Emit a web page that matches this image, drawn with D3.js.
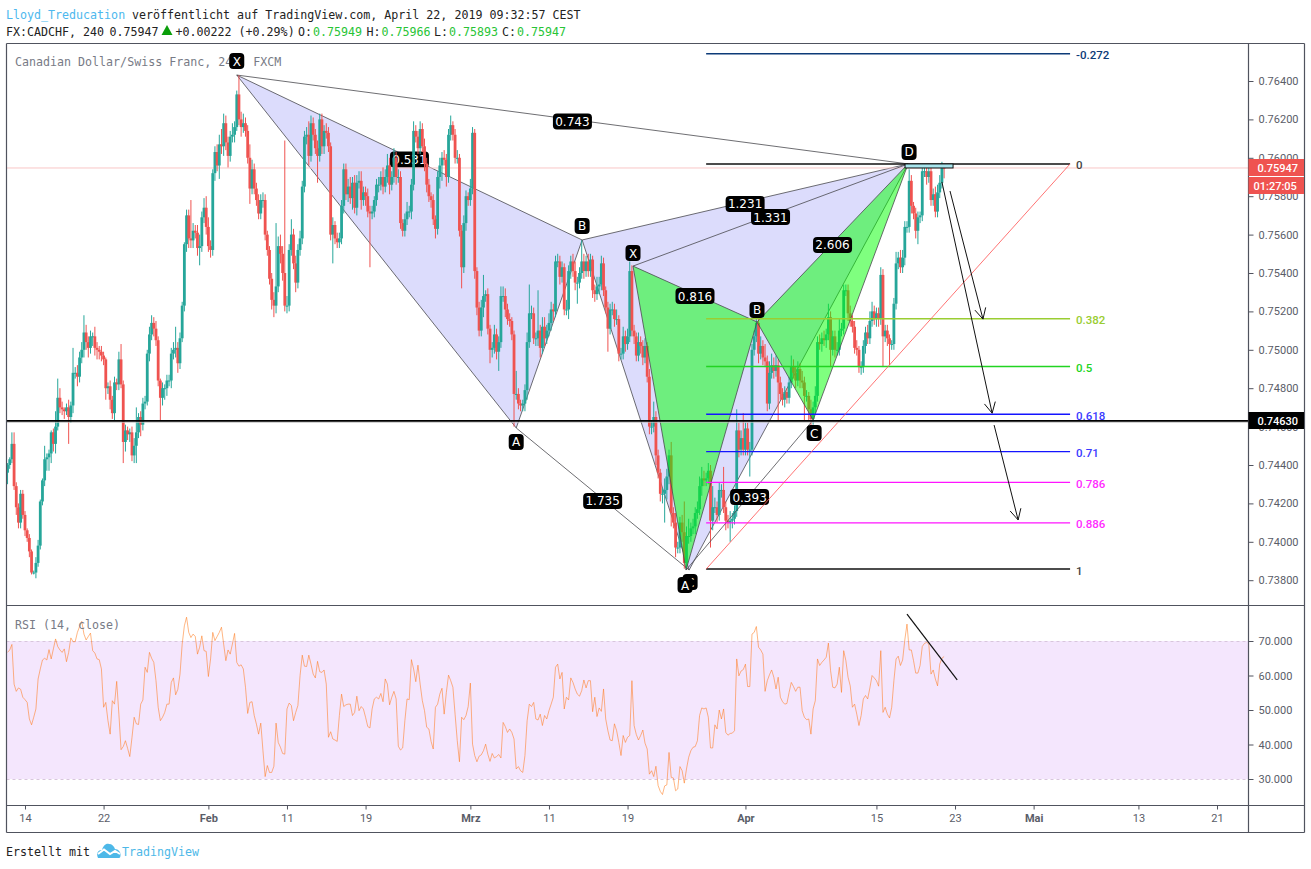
<!DOCTYPE html>
<html lang="de">
<head>
<meta charset="utf-8">
<title>CADCHF 240</title>
<script src="https://cdn.jsdelivr.net/npm/d3@7/dist/d3.min.js"></script>
<style>
html,body{margin:0;padding:0;background:#fff;}
svg{display:block;}
.mono{font-family:"DejaVu Sans Mono",monospace;font-size:11.65px;}
.scale{font-family:Roboto,sans-serif;font-size:11px;fill:#5a5d68;}
.tag{font-family:"DejaVu Sans",sans-serif;font-size:12px;fill:#fff;text-anchor:middle;}
</style>
</head>
<body>
<svg id="chart" width="1311" height="869"></svg>
<script>
// Prices are kept in pips (1 pip = 0.0001), one entry per 4-hour bar.
const firstOpen = 7436;
const closes = [
7440,7443,7451,7429,7418,7410,7425,7414,7406,7402,
7395,7384,7384,7389,7398,7421,7432,7443,7444,7446,
7457,7451,7460,7475,7470,7469,7468,7470,7465,7471,
7488,7488,7486,7496,7500,7509,7504,7501,7507,7507,
7501,7500,7499,7497,7495,7480,7481,7474,7467,7483,
7482,7495,7482,7452,7458,7456,7457,7445,7450,7457,
7465,7461,7472,7473,7498,7508,7514,7511,7505,7484,
7475,7480,7480,7484,7484,7498,7500,7501,7493,7506,
7523,7555,7570,7558,7557,7562,7561,7553,7554,7569,
7574,7564,7554,7552,7592,7603,7596,7607,7606,7618,
7608,7601,7611,7612,7616,7633,7620,7616,7618,7614,
7600,7584,7594,7584,7578,7571,7578,7578,7560,7552,
7537,7526,7523,7533,7554,7550,7540,7523,7523,7552,
7560,7545,7535,7552,7558,7585,7611,7612,7601,7618,
7612,7605,7601,7620,7606,7614,7613,7606,7560,7565,
7558,7556,7558,7575,7594,7581,7585,7579,7587,7574,
7587,7588,7578,7582,7580,7572,7571,7572,7578,7586,
7586,7590,7585,7590,7596,7586,7590,7600,7590,7590,
7566,7562,7568,7572,7572,7586,7614,7611,7605,7615,
7606,7597,7586,7580,7578,7568,7563,7590,7596,7600,
7599,7590,7612,7617,7612,7600,7600,7562,7543,7566,
7580,7578,7584,7613,7541,7522,7510,7522,7528,7529,
7511,7500,7501,7508,7499,7504,7528,7528,7521,7516,
7515,7508,7477,7477,7472,7471,7472,7479,7504,7519,
7519,7506,7506,7510,7501,7512,7506,7510,7514,7521,
7520,7546,7546,7538,7543,7521,7521,7541,7546,7541,
7535,7535,7540,7546,7541,7546,7541,7547,7531,7529,
7533,7534,7545,7531,7522,7511,7521,7521,7516,7516,
7498,7498,7507,7503,7507,7541,7510,7507,7497,7504,
7502,7496,7502,7486,7460,7460,7465,7445,7436,7425,
7425,7427,7434,7445,7415,7410,7397,7397,7410,7405,
7389,7403,7403,7407,7408,7415,7417,7429,7433,7432,
7433,7437,7411,7418,7418,7414,7427,7427,7418,7411,
7410,7411,7412,7416,7458,7448,7454,7448,7459,7448,
7448,7500,7507,7514,7498,7502,7496,7494,7472,7488,
7492,7489,7492,7483,7477,7474,7478,7475,7483,7491,
7488,7484,7490,7484,7483,7476,7476,7469,7464,7470,
7476,7504,7503,7506,7505,7508,7517,7500,7507,7500,
7500,7510,7511,7531,7531,7519,7515,7512,7501,7500,
7491,7491,7502,7509,7506,7515,7520,7516,7519,7516,
7539,7507,7510,7506,7503,7503,7524,7545,7548,7543,
7548,7564,7564,7588,7575,7571,7562,7569,7570,7593,
7593,7590,7593,7578,7581,7572,7582,7587,7594.9,7594.7];

// Wick lengths in pips, measured from the top and the bottom of each body.
const wickUp = [
1,1,6,6,2,2,2,2,2,1,
2,1,1,3,3,1,1,7,2,2,
1,2,8,10,5,3,1,2,4,2,
13,3,4,3,4,9,4,3,3,2,
5,3,2,3,2,1,2,3,2,3,
2,4,8,2,3,2,2,3,4,13,
2,3,3,3,2,4,4,3,4,2,
1,3,2,3,3,3,4,11,3,3,
2,1,3,3,20,4,3,4,6,3,
5,6,5,3,2,3,4,5,8,5,
4,3,3,6,3,2,10,4,5,3,
3,7,5,3,3,3,3,4,3,2,
2,3,4,33,5,6,4,69,5,3,
8,3,4,3,4,3,3,4,7,4,
3,3,4,3,3,3,4,3,2,4,
2,3,3,3,3,3,4,5,3,4,
4,5,5,3,3,4,3,3,2,3,
4,3,5,4,6,4,3,5,3,4,
3,2,3,5,3,3,5,3,3,4,
3,4,3,3,2,3,2,3,4,3,
4,3,3,5,2,3,4,2,3,4,
3,2,5,3,2,2,3,4,11,2,
3,2,3,5,3,3,5,5,4,3,
3,2,2,12,3,2,2,3,5,15,
4,3,3,21,3,5,5,3,5,4,
3,3,4,3,3,2,5,3,3,4,
5,3,3,11,4,3,4,3,2,3,
5,4,4,3,2,3,3,4,3,5,
2,3,5,3,4,5,3,3,2,5,
3,3,4,2,4,3,8,3,3,2,
3,6,4,3,7,3,5,3,3,4,
16,5,9,3,4,3,4,5,6,4,
3,4,3,11,5,3,4,3,12,3,
3,5,3,3,11,4,4,13,3,3,
4,3,3,3,3,5,3,7,3,6,
6,4,5,3,3,3,3,2,3,6,
4,3,4,3,5,3,3,2,5,3,
5,3,4,3,4,3,7,3,3,3,
4,6,3,3,3,3,4,3,3,4,
2,3,3,3,4,5,5,3,3,3,
4,3,3,3,2,2,3,6,3,4,
4,3,3,6,3,2,3,3,2,2,
2,2,3,3,3,4,4,4,3,1.7];

const wickDown = [
6,2,2,2,4,3,3,2,3,2,
3,1,1,3,2,2,2,3,6,7,
5,4,5,2,3,3,4,2,14,3,
4,3,5,3,3,4,4,5,3,5,
4,5,4,3,3,6,3,5,3,4,
3,3,2,11,5,3,4,3,4,9,
3,6,3,3,2,4,3,4,3,3,
12,4,6,4,3,4,3,4,5,3,
2,3,4,5,4,4,3,4,9,3,
3,4,3,4,3,4,3,7,4,5,
4,6,3,3,4,2,3,5,3,3,
3,8,3,3,3,3,3,4,3,3,
3,5,6,4,3,5,4,3,4,3,
3,3,5,3,3,3,3,4,5,3,
3,3,14,3,4,4,3,3,3,15,
3,3,3,3,4,3,4,3,6,3,
4,3,5,3,5,3,28,3,3,3,
4,3,4,3,3,5,3,3,4,3,
3,3,3,3,3,4,3,3,3,3,
3,4,4,3,4,3,5,3,6,8,
3,5,3,3,3,3,3,3,11,3,
4,3,3,3,4,4,3,3,5,3,
3,7,4,3,4,10,3,3,4,3,
3,3,17,3,3,3,3,4,5,3,
3,3,4,4,5,3,4,3,3,4,
5,3,3,4,3,3,3,5,4,3,
4,11,3,3,4,3,3,3,4,4,
3,4,3,3,3,12,3,3,4,3,
4,3,3,4,3,3,3,4,3,3,
4,4,3,3,4,4,3,5,3,4,
5,15,5,4,7,3,5,3,3,5,
3,3,4,3,3,4,3,3,5,3,
3,3,14,5,3,4,3,4,3,5,
3,10,4,3,3,4,3,3,3,3,
14,3,3,3,5,3,4,3,4,3,
3,4,3,20,3,3,4,3,3,3,
3,4,3,4,3,13,3,6,4,3,
3,3,3,4,3,4,3,9,3,4,
3,3,3,3,3,4,3,3,3,3,
3,4,3,4,3,3,3,3,4,4,
3,16,3,4,11,3,3,3,3,3,
3,4,3,3,4,3,4,7,3,3,
3,4,3,3,3,3,3,3,3,5.4];

// RSI (14, close), one value per bar.
const rsiValues = [
66.7,67.4,69,57.5,55.4,56.4,56,53.7,53,52.2,
47.4,45.7,47.9,50.3,59,61.9,64.5,65,64.5,67.5,
64.8,67.7,70.6,68.4,67.4,66.7,67.7,64,66.7,70.9,
69.8,69.8,72.5,74.2,75.7,72,70.3,71.3,72.3,67.2,
66.5,64.8,64.6,61.9,50.8,52.2,46.9,43,52.7,51.7,
58.3,48.8,38.5,39.4,41.1,38.9,36.5,42,47.9,46,
45.8,51.7,52.9,62.4,60.9,66.7,65,63.8,58.5,50.8,
46.9,47.9,49.3,51.7,51.7,58,59.3,54.4,56,60.4,
69.1,74.4,76.9,72.5,71,72,71.3,66.2,68.2,71.5,
67.2,67,59.7,64.8,72.5,70.1,71.3,72.5,74,69.1,
64.3,67.4,66.2,69.1,72.2,63.8,62.7,63.1,61.9,56.6,
49,52.2,52.4,48.4,45.9,43,46.2,38.2,30.7,33.9,
31.9,31.9,33.7,46.2,40.6,39.2,37.4,37.2,50.3,52,
51.3,46.9,49.3,51.3,60,65.9,62.7,62.6,65.9,63.3,
60.4,59.3,64.1,61.1,60.9,61.6,57.5,42.1,43.7,41.6,
41.3,40.9,48.4,54.6,51,51.5,51.7,51.7,48.4,49.3,
54,49.8,51,50.3,47.9,45.2,44.8,50.3,53.2,53.7,
53.2,54.8,52.4,59,57.5,51.5,53.7,55.4,53.2,39.5,
38.4,39,46.9,53.2,53,64.6,61.9,58.2,63,57.5,
52.7,49.8,45,44.5,40.9,38.7,50.8,51.7,54.6,56.3,
48.8,55.1,60.1,58.5,56.6,48.8,41.1,35,47.9,47.2,
48.4,51,57.8,40.1,36.8,35,36.6,
37,38.2,40.1,37.2,35.1,37.4,36.1,36.5,37.1,36.1,
46.4,45.2,43.5,44.5,43.5,41.6,32.9,33.6,32.4,31.9,
36.8,46.9,51.7,51,52.2,47.4,47.1,48.8,45.5,48.4,
47.4,49.8,51.7,53.7,62.4,63.3,59,60.9,50.3,53.7,
52.9,59.3,58,56.1,54.6,54,55.6,58.7,56.4,58.5,
58.5,49.5,53.7,48.1,50.6,49.6,56.1,47.4,44,41.3,
41.1,46,44,40.6,36.8,42.6,40.6,42.1,42.6,58.5,
45.5,42.9,41.3,42.6,44.2,40.4,38.7,31.4,32.4,30.7,
33.7,28.1,26.4,25.5,28,28.3,37.7,30.5,30.3,26.6,
27.1,33.6,32.4,28.8,32.9,36.3,38.2,39.2,39.4,41.1,
48.4,50.6,50.3,50.6,47.9,39,39,45.7,44.5,50,
47.4,50.3,43.5,42.7,43.2,43.3,44,64.8,59.9,61.3,
61.7,63.3,56.8,56.8,72,72.5,74.2,68.2,67.4,66.2,
55.4,58.5,60.2,61.6,59.5,56.1,59.5,53.7,52.4,51.7,
51.9,55.1,58,56.8,55.4,56.6,56.6,49.8,47.9,47.2,
47.4,43,50.3,52.7,64.8,62.9,63.8,64.5,65.3,69.4,
61.4,56.6,56.4,57.5,62.4,55.1,67.2,64.3,59.5,57,
50.8,51.7,48.8,45.5,48.4,53.2,54.2,53.2,56.4,60,
59.3,58.5,56.9,67.2,49.3,50.8,48.8,47.7,50.8,58.5,
64.8,65.6,62.9,64.5,70.3,74.9,67.4,67.4,64.3,60.7,
60.7,62.9,68.4,69.3,69.6,69.1,60.4,61.6,59,57,
63.3,65,65.5];

// Time axis: bar positions and their labels.
const timeTickBars = [8,44,92,128,164,212,248,284,338,398,434,470,518,554];
const timeTickLabels = ["14","22","Feb","11","19","Mrz","11","19","Apr","15","23","Mai","13","21"];
const monthLabels = ["Feb","Mrz","Apr","Mai"];

const priceTicks = [7640,7620,7600,7580,7560,7540,7520,7500,7480,7460,7440,7420,7400,7380];
const rsiTicks = [70,60,50,40,30];

// Harmonic patterns, [bar, price in pips] per pivot.
const largePattern = {X:[105,7643.1],A:[233,7459.3],B:[263.2,7557.2],C:[312.2,7385.3],D:[412.5,7596.8]};
const largeRatios = {XB:"0.531",AC:"1.735",BD:"1.231",XD:"0.743"};
const smallPattern = {X:[286.5,7543.6],A:[310.8,7385.3],B:[343.3,7514.5],C:[369,7463.4],D:[412.5,7596.8]};
const smallRatios = {XB:"0.816",AC:"0.393",BD:"2.606",XD:"1.331"};

// Fibonacci retracement between two anchors.
const fibStart = [320,7385.8];
const fibEnd = [486.7,7596.8];
const fibLevels = [-0.272,0,0.382,0.5,0.618,0.71,0.786,0.886,1];
const fibColors = ["#0d3b78","#111111","#9acd32","#22d422","#1414ff","#1414ff","#ff14ff","#ff14ff","#111111"];
const fibTextColors = ["#0d3b78","#444444","#9acd32","#22d422","#3a3aff","#3a3aff","#ff2cff","#ff2cff","#444444"];

// Hand-drawn projection arrows, the small box at D and the RSI trend line.
const arrowSegments = [
  [[431.7,7582.7],[446.8,7516]],
  [[428,7587.4],[451,7467]],
  [[451.9,7460.8],[462.9,7411.4]]
];
const dBox = [[411.1,7596.8],[433.1,7594.7]];
const rsiTrend = [[412,77.8],[435,58.7]];
const supportLevel = 7463;
const lastPrice = 7594.7;

const x = d3.scaleLinear().domain([8,554]).range([25,1217]);
const y = d3.scaleLinear().domain([7640,7380]).range([81,580.2]);
const yRsi = d3.scaleLinear().domain([70,30]).range([641,779]);

const paneLeft = 6.5, paneRight = 1248.5, frameRight = 1304.5;
const frameTop = 43.5, priceBottom = 605.5, rsiBottom = 805.5, frameBottom = 832.5;

const svg = d3.select("#chart");
const bars = closes.map((c,i) => {
  const o = i ? closes[i-1] : firstOpen;
  return {i, o, c, h: Math.max(o,c) + (wickUp[i]||0), l: Math.min(o,c) - (wickDown[i]||0)};
});

// Header lines
const header = svg.append("g").attr("class","mono");
const put = (t,px,py,fill) => header.append("text").attr("x",px).attr("y",py).attr("fill",fill).text(t);
put("Lloyd_Treducation",6,19,"#4db8ee");
put("veröffentlicht auf TradingView.com, April 22, 2019 09:32:57 CEST",132,19,"#222");
put("FX:CADCHF, 240",6,36,"#222");
put("0.75947",109.5,36,"#222");
header.append("path").attr("d","M161.5 35 L167 25 L172.5 35 Z").attr("fill","#0a9e0a");
put("+0.00222 (+0.29%)",175.5,36,"#222");
put("O:",298,36,"#222"); put("0.75949",313,36,"#28c436");
put("H:",366.5,36,"#222"); put("0.75966",381.5,36,"#28c436");
put("L:",434,36,"#222"); put("0.75893",449,36,"#28c436");
put("C:",502,36,"#222"); put("0.75947",517,36,"#28c436");

// RSI band behind the oscillator
svg.append("rect").attr("x",paneLeft).attr("width",paneRight-paneLeft)
  .attr("y",yRsi(70)).attr("height",yRsi(30)-yRsi(70)).attr("fill","#f4e6fd");
svg.selectAll(".band").data([70,30]).join("line")
  .attr("x1",paneLeft).attr("x2",paneRight).attr("y1",d=>yRsi(d)+.5).attr("y2",d=>yRsi(d)+.5)
  .attr("stroke","#d8c6dc").attr("stroke-dasharray","3,3");

// Pane captions
svg.append("text").attr("class","mono").attr("x",15).attr("y",66).attr("fill","#787b86")
  .text("Canadian Dollar/Swiss Franc, 240, FXCM");

// Harmonic pattern drawing
const px = p => [x(p[0]),y(p[1])];
function pattern(pts, fill){
  const g = svg.append("g");
  const tri = (a,b,c) => g.append("path")
    .attr("d",d3.line()([px(pts[a]),px(pts[b]),px(pts[c])])+"Z").attr("fill",fill);
  tri("X","A","B"); tri("B","C","D");
  [["X","A"],["A","B"],["B","C"],["C","D"],["X","B"],["B","D"],["A","C"],["X","D"]].forEach(([a,b]) => {
    g.append("line")
      .attr("x1",x(pts[a][0])).attr("y1",y(pts[a][1]))
      .attr("x2",x(pts[b][0])).attr("y2",y(pts[b][1]))
      .attr("stroke","#4a4a4f").attr("stroke-opacity",.8);
  });
}

// Ratio and pivot tags
function tag(text,cx,cy){
  const g = svg.append("g");
  const w = text.length>1 ? 39 : 15;
  g.append("rect").attr("x",cx-w/2).attr("y",cy-8).attr("width",w).attr("height",16)
    .attr("rx",4).attr("fill","#000");
  g.append("text").attr("class","tag").attr("x",cx).attr("y",cy+4.5).text(text);
}
function tags(pts,ratios,offsets){
  const mid = (a,b) => [(x(pts[a][0])+x(pts[b][0]))/2,(y(pts[a][1])+y(pts[b][1]))/2];
  Object.keys(ratios).forEach(k => {
    const [mx,my] = mid(k[0],k[1]);
    tag(ratios[k],mx,my+2);
  });
  Object.keys(offsets).forEach(k => {
    tag(k,x(pts[k][0])+offsets[k][0],y(pts[k][1])+offsets[k][1]);
  });
}

// The larger pattern sits underneath the candles
pattern(largePattern,"rgba(80,80,240,0.2)");
tags(largePattern,largeRatios,{X:[0,-14],A:[0,14],B:[0,-14],C:[1,12],D:[1,-12]});

// Last-price line
svg.append("line").attr("x1",paneLeft).attr("x2",paneRight)
  .attr("y1",y(lastPrice)).attr("y2",y(lastPrice)).attr("stroke","#f9c6c6");

// Candles
const up = "#26a69a", down = "#ef5350";
const candles = svg.append("g");
candles.selectAll("line").data(bars).join("line")
  .attr("x1",d=>x(d.i)).attr("x2",d=>x(d.i))
  .attr("y1",d=>y(d.h)).attr("y2",d=>y(d.l))
  .attr("stroke",d=>d.c>=d.o?up:down);
candles.selectAll("rect").data(bars).join("rect")
  .attr("x",d=>x(d.i)-1.4).attr("width",2.8)
  .attr("y",d=>y(Math.max(d.o,d.c)))
  .attr("height",d=>Math.max(1,Math.abs(y(d.o)-y(d.c))))
  .attr("fill",d=>d.c>=d.o?up:down);

// The smaller pattern is laid over them
pattern(smallPattern,"rgba(0,255,0,0.5)");
tags(smallPattern,smallRatios,{X:[0,-13],A:[-1,15],B:[0,-12],C:[1,13]});

// Fibonacci retracement
const fibPrice = l => fibEnd[1] + (fibStart[1]-fibEnd[1])*l;
const fib = svg.append("g");
fib.selectAll("line").data(fibLevels).join("line")
  .attr("x1",x(fibStart[0])).attr("x2",x(fibEnd[0]))
  .attr("y1",d=>y(fibPrice(d))).attr("y2",d=>y(fibPrice(d)))
  .attr("stroke",(d,i)=>fibColors[i]).attr("stroke-width",1.4);
fib.selectAll("text").data(fibLevels).join("text")
  .attr("x",x(fibEnd[0])+6).attr("y",d=>y(fibPrice(d))+5.5)
  .attr("font-family","Roboto,sans-serif").attr("font-size",11.5).attr("font-weight",500)
  .attr("fill",(d,i)=>fibTextColors[i]).text(d=>String(d));
svg.append("line")
  .attr("x1",x(fibStart[0])).attr("y1",y(fibStart[1]))
  .attr("x2",x(fibEnd[0])).attr("y2",y(fibEnd[1]))
  .attr("stroke","#ff5c5c").attr("stroke-opacity",.85);

// Support line at 0.7463
svg.append("rect").attr("x",paneLeft).attr("width",paneRight-paneLeft)
  .attr("y",y(supportLevel)+.8).attr("height",1).attr("fill","#bbbbbb");
svg.append("line").attr("x1",paneLeft).attr("x2",paneRight)
  .attr("y1",y(supportLevel)).attr("y2",y(supportLevel))
  .attr("stroke","#000").attr("stroke-width",1.8);

// Box at the D pivot
svg.append("rect")
  .attr("x",x(dBox[0][0])).attr("y",y(dBox[0][1]))
  .attr("width",x(dBox[1][0])-x(dBox[0][0])).attr("height",y(dBox[1][1])-y(dBox[0][1]))
  .attr("fill","#a8e6ee").attr("stroke","#111");

// Projection arrows
arrowSegments.forEach(([a,b]) => {
  const [x1,y1] = px(a), [x2,y2] = px(b);
  const ang = Math.atan2(y2-y1,x2-x1), hl = 12, sp = 0.48;
  const head = s => [x2-hl*Math.cos(ang+s*sp), y2-hl*Math.sin(ang+s*sp)];
  svg.append("path")
    .attr("d",d3.line()([[x1,y1],[x2,y2]])+d3.line()([head(1),[x2,y2],head(-1)]))
    .attr("fill","none").attr("stroke","#111").attr("stroke-width",1);
});

// Oscillator line and its trend line
svg.append("path")
  .attr("d",d3.line().x((d,i)=>x(i)).y(d=>yRsi(d))(rsiValues))
  .attr("fill","none").attr("stroke","#ff7a1e").attr("stroke-opacity",.55).attr("stroke-width",1);
svg.append("line")
  .attr("x1",x(rsiTrend[0][0])).attr("y1",yRsi(rsiTrend[0][1]))
  .attr("x2",x(rsiTrend[1][0])).attr("y2",yRsi(rsiTrend[1][1]))
  .attr("stroke","#111").attr("stroke-width",1.2);
svg.append("text").attr("class","mono").attr("x",15).attr("y",628.5).attr("fill","#787b86")
  .text("RSI (14, close)");

// Panel frame
const frameColor = "#50535e";
[[paneLeft,frameTop,frameRight,frameTop],[paneLeft,frameBottom,frameRight,frameBottom],
 [paneLeft,frameTop,paneLeft,frameBottom],[frameRight,frameTop,frameRight,frameBottom],
 [paneRight,frameTop,paneRight,frameBottom],[paneLeft,priceBottom,frameRight,priceBottom],
 [paneLeft,rsiBottom,frameRight,rsiBottom]].forEach(s => {
  svg.append("line").attr("x1",s[0]).attr("y1",s[1]).attr("x2",s[2]).attr("y2",s[3])
    .attr("stroke",frameColor).attr("stroke-width",1.2);
});

// Axes
function styleAxis(g){
  g.select(".domain").remove();
  g.selectAll("line").attr("stroke",frameColor);
  g.selectAll("text").attr("class","scale");
}
svg.append("g").attr("transform",`translate(${paneRight},0)`)
  .call(d3.axisRight(y).tickValues(priceTicks).tickSize(5).tickPadding(5)
    .tickFormat(d=>(d/10000).toFixed(5))).call(styleAxis);
svg.append("g").attr("transform",`translate(${paneRight},0)`)
  .call(d3.axisRight(yRsi).tickValues(rsiTicks).tickSize(5).tickPadding(5)
    .tickFormat(d=>d.toFixed(3))).call(styleAxis);
svg.append("g").attr("transform",`translate(0,${rsiBottom})`)
  .call(d3.axisBottom(x).tickValues(timeTickBars).tickSize(4).tickPadding(5)
    .tickFormat((d,i)=>timeTickLabels[i])).call(styleAxis)
  .selectAll("text").attr("font-weight",(d,i)=>monthLabels.includes(timeTickLabels[i])?700:400);

// Price tags on the scale
function priceTag(text,top,h,fill,left){
  svg.append("rect").attr("x",paneRight).attr("y",top).attr("width",frameRight-paneRight-.5)
    .attr("height",h).attr("fill",fill);
  svg.append("text").attr("x",left).attr("y",top+h/2+4).attr("fill","#fff")
    .attr("font-family","Roboto,sans-serif").attr("font-size",11).attr("font-weight",500).text(text);
}
priceTag((lastPrice/10000).toFixed(5),159,17,"#ef5350",1257.5);
priceTag("01:27:05",177,17,"#ef5350",1253.5);
priceTag((supportLevel/10000).toFixed(5),412,17,"#000",1257.5);

// Footer with logo
svg.append("text").attr("class","mono").attr("x",6).attr("y",856).attr("fill","#222").text("Erstellt mit");
const logo = svg.append("g").attr("transform","translate(97,843)");
logo.append("path").attr("fill","#4db8e8")
  .attr("d","M1 15 C-1 10 1 7 5 7 C6 3 9 0 12 1 C15 1 17 3 18 6 C21 6 24 9 23.5 12 C23.5 14 23 15 22 15 Z");
logo.append("path").attr("fill","none").attr("stroke","#fff").attr("stroke-width",2)
  .attr("d","M1 11 L7 6.5 L13 11 L18 8 L23 11");
svg.append("text").attr("class","mono").attr("x",122).attr("y",856).attr("fill","#4db8e8").text("TradingView");
</script>
</body>
</html>
